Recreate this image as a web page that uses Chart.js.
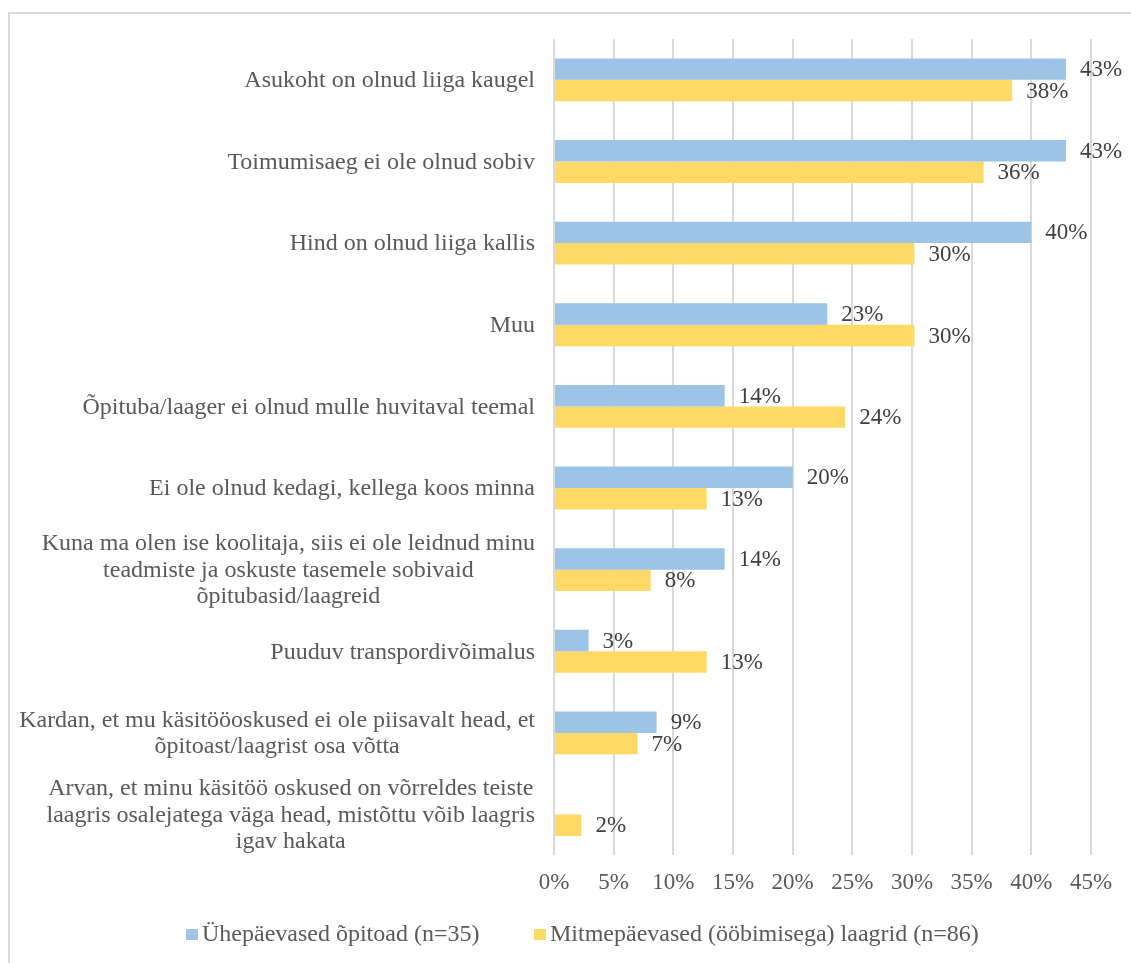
<!DOCTYPE html>
<html>
<head>
<meta charset="utf-8">
<script src="https://cdn.jsdelivr.net/npm/chart.js@4.4.1/dist/chart.umd.min.js"></script>
<style>
    html, body { margin: 0; padding: 0; background: #fff; overflow: hidden; }
    #frame { position: absolute; left: 8px; top: 12px; width: 1200px; height: 1000px; border: 2px solid #d9d9d9; }
    #chart { position: absolute; left: 0; top: 0; }
</style>
</head>
<body>
<div id="frame"></div>
<canvas id="chart" width="1131" height="963"></canvas>
<script>
const categories = [
    ['Asukoht on olnud liiga kaugel'],
    ['Toimumisaeg ei ole olnud sobiv'],
    ['Hind on olnud liiga kallis'],
    ['Muu'],
    ['Õpituba/laager ei olnud mulle huvitaval teemal'],
    ['Ei ole olnud kedagi, kellega koos minna'],
    ['Kuna ma olen ise koolitaja, siis ei ole leidnud minu', 'teadmiste ja oskuste tasemele sobivaid', 'õpitubasid/laagreid'],
    ['Puuduv transpordivõimalus'],
    ['Kardan, et mu käsitööoskused ei ole piisavalt head, et', 'õpitoast/laagrist osa võtta'],
    ['Arvan, et minu käsitöö oskused on võrreldes teiste', 'laagris osalejatega väga head, mistõttu võib laagris', 'igav hakata'],
]
const oneDayValues = [42.9, 42.9, 40.0, 22.9, 14.3, 20.0, 14.3, 2.9, 8.6, null]
const campValues = [38.4, 36.0, 30.2, 30.2, 24.4, 12.8, 8.1, 12.8, 7.0, 2.3]
const seriesNames = ['Ühepäevased õpitoad (n=35)', 'Mitmepäevased (ööbimisega) laagrid (n=86)']
const seriesColors = ['#9dc3e6', '#ffd966']
const xTicks = [0, 5, 10, 15, 20, 25, 30, 35, 40, 45]

const FONT = "'Liberation Serif', 'Times New Roman', serif"
Chart.defaults.font.family = FONT

// category labels: block right-aligned, lines centred inside the block
const categoryLabels = {
    id: 'categoryLabels',
    afterDraw(chart) {
        const ctx = chart.ctx
        const y = chart.scales.y
        const right = 535
        const lineH = 26.5
        ctx.save()
        ctx.font = '24px ' + FONT
        ctx.fillStyle = '#595959'
        ctx.textAlign = 'center'
        ctx.textBaseline = 'middle'
        categories.forEach((lines, i) => {
            const cy = y.getPixelForValue(i) + 1
            const w = Math.max(...lines.map((l) => ctx.measureText(l).width))
            const cx = right - w / 2
            const top = cy - (lines.length - 1) * lineH / 2
            lines.forEach((l, j) => ctx.fillText(l, cx, top + j * lineH))
        })
        ctx.restore()
    },
}

const valueLabels = {
    id: 'valueLabels',
    afterDatasetsDraw(chart) {
        const ctx = chart.ctx
        ctx.save()
        ctx.font = '23px ' + FONT
        ctx.fillStyle = '#404040'
        ctx.textAlign = 'left'
        ctx.textBaseline = 'middle'
        chart.data.datasets.forEach((ds, di) => {
            chart.getDatasetMeta(di).data.forEach((bar, i) => {
                const v = ds.data[i]
                if (v === null || v === undefined) return
                ctx.fillText(Math.round(v) + '%', bar.x + 14, bar.y + 1)
            })
        })
        ctx.restore()
    },
}

const bottomLegend = {
    id: 'bottomLegend',
    afterDraw(chart) {
        const ctx = chart.ctx
        const items = [
            { box: 186, text: 202 },
            { box: 534, text: 550 },
        ]
        ctx.save()
        ctx.font = '24px ' + FONT
        ctx.textAlign = 'left'
        ctx.textBaseline = 'middle'
        items.forEach((it, i) => {
            ctx.fillStyle = seriesColors[i]
            ctx.fillRect(it.box, 929, 12, 11)
            ctx.fillStyle = '#595959'
            ctx.fillText(seriesNames[i], it.text, 935)
        })
        ctx.restore()
    },
}

const ctx = document.getElementById('chart').getContext('2d')
new Chart(ctx, {
    type: 'bar',
    data: {
        labels: categories.map((c) => c.join(' ')),
        datasets: [
            { label: seriesNames[0], data: oneDayValues, backgroundColor: seriesColors[0] },
            { label: seriesNames[1], data: campValues, backgroundColor: seriesColors[1] },
        ],
    },
    options: {
        indexAxis: 'y',
        responsive: false,
        animation: false,
        categoryPercentage: 0.525,
        barPercentage: 1,
        layout: { padding: { top: 39, right: 40, bottom: 52, left: 0 } },
        scales: {
            x: {
                min: 0,
                max: 45,
                afterBuildTicks: (s) => { s.ticks = xTicks.map((v) => ({ value: v })) },
                ticks: {
                    callback: (v) => v + '%',
                    font: { size: 23 },
                    color: '#595959',
                    padding: 14,
                    maxRotation: 0,
                },
                grid: { color: '#d9d9d9', lineWidth: 2, drawTicks: false },
                border: { display: false },
            },
            y: {
                ticks: { display: false },
                grid: { display: false },
                border: { display: false },
                afterFit: (s) => { s.width = 554 },
            },
        },
        plugins: {
            legend: { display: false },
            tooltip: { enabled: false },
        },
    },
    plugins: [categoryLabels, valueLabels, bottomLegend],
})
</script>
</body>
</html>
